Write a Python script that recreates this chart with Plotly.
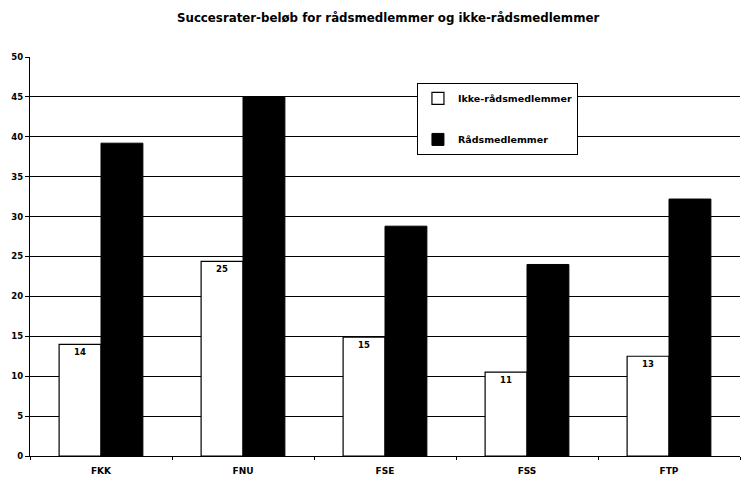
import plotly.graph_objects as go

categories = ["FKK", "FNU", "FSE", "FSS", "FTP"]
ikke_values = [14.0, 24.4, 14.9, 10.5, 12.5]
ikke_labels = ["14", "25", "15", "11", "13"]
raad_values = [39.2, 45.0, 28.8, 24.0, 32.2]
y_ticks = [0, 5, 10, 15, 20, 25, 30, 35, 40, 45, 50]

font_family = "DejaVu Sans, Liberation Sans, Arial, sans-serif"

fig = go.Figure()
fig.add_trace(go.Bar(
    x=categories, y=ikke_values, name="<b>Ikke-rådsmedlemmer</b>",
    marker=dict(color="white", line=dict(color="black", width=1.2)),
    text=ikke_labels, textposition="inside", insidetextanchor="end",
    texttemplate="<br><b>%{text}</b>",
    textfont=dict(color="black", size=8.5, family=font_family),
    legendgroup="a",
))
fig.add_trace(go.Bar(
    x=categories, y=raad_values, name="<b>Rådsmedlemmer</b>",
    marker=dict(color="black", line=dict(color="black", width=1)),
    legendgroup="b",
))

fig.update_layout(
    width=741, height=473,
    paper_bgcolor="white", plot_bgcolor="white",
    margin=dict(l=22, r=9, t=49, b=25, autoexpand=False),
    barmode="group", bargap=0.41, bargroupgap=0,
    font=dict(family=font_family, color="black", size=9),
    title=dict(
        text="<b>Succesrater-beløb for rådsmedlemmer og ikke-rådsmedlemmer</b>",
        x=0.513, xanchor="center", y=0.979, yanchor="middle",
        font=dict(size=11.8, family=font_family, color="black"),
    ),
    legend=dict(
        x=0.545, y=0.935, xanchor="left", yanchor="top",
        bgcolor="white", bordercolor="black", borderwidth=1,
        font=dict(size=9.5, family=font_family),
        tracegroupgap=22, itemwidth=30,
    ),
    showlegend=True,
)
fig.update_yaxes(
    automargin=False,
    range=[0, 50], tickvals=y_ticks, ticktext=["<b>%d</b>" % v for v in y_ticks],
    showgrid=True, gridcolor="black", gridwidth=1,
    showline=True, linecolor="black", linewidth=1.2,
    ticks="outside", ticklen=4, tickcolor="black",
    tickfont=dict(size=8.5), zeroline=False,
)
fig.update_xaxes(
    automargin=False,
    showline=True, linecolor="black", linewidth=1.2,
    tickvals=categories, ticktext=["<b>%s</b>" % c for c in categories],
    ticks="outside", tickson="boundaries", ticklen=3, tickcolor="black",
    ticklabelstandoff=6,
    tickfont=dict(size=9),
)

fig.write_html("out.html")
